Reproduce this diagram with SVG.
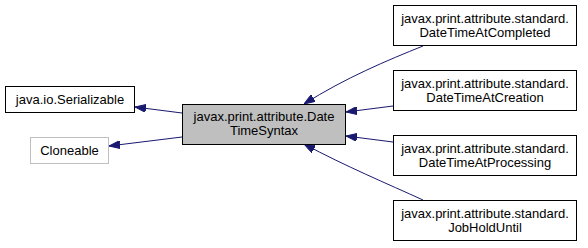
<svg xmlns="http://www.w3.org/2000/svg" width="588" height="248" viewBox="0 0 588 248">
  <style>
    .box { fill: #ffffff; stroke: #000000; stroke-width: 1; }
    .grey { fill: #ffffff; stroke: #bfbfbf; stroke-width: 1; }
    .cur { fill: #bfbfbf; stroke: #000000; stroke-width: 1; }
    text { font-family: "Liberation Sans", Arial, sans-serif; font-size: 13px; fill: #000000; text-anchor: middle; }
    .edge { fill: none; stroke: #191970; stroke-width: 1; }
  </style>
  <defs>
    <marker id="arrow" viewBox="0 0 11 8" refX="11" refY="4" markerWidth="11" markerHeight="8" markerUnits="userSpaceOnUse" orient="auto">
      <path d="M0,0 L11,4 L0,8 z" fill="#191970" stroke="#191970"/>
    </marker>
  </defs>
  <rect width="588" height="248" fill="#ffffff"/>

  <g id="edges">
    <path class="edge" d="M423,46 C388,60 345,78 304,104" marker-end="url(#arrow)"/>
    <path class="edge" d="M393,106 L346,112" marker-end="url(#arrow)"/>
    <path class="edge" d="M393,142 L346,136" marker-end="url(#arrow)"/>
    <path class="edge" d="M423,200 C388,184 345,166 304,144" marker-end="url(#arrow)"/>
    <path class="edge" d="M182,113 L135,107" marker-end="url(#arrow)"/>
    <path class="edge" d="M182,137 L109,146" marker-end="url(#arrow)"/>
  </g>

  <g id="node-datetimesyntax">
    <rect class="cur" x="182.5" y="104.5" width="163" height="40"/>
    <text x="264" y="121">javax.print.attribute.Date</text>
    <text x="264" y="135">TimeSyntax</text>
  </g>

  <g id="node-serializable">
    <rect class="box" x="5.5" y="86.5" width="129" height="26"/>
    <text x="70" y="104">java.io.Serializable</text>
  </g>

  <g id="node-cloneable">
    <rect class="grey" x="30.5" y="137.5" width="78" height="26"/>
    <text x="69.5" y="155">Cloneable</text>
  </g>

  <g id="node-datetimeatcompleted">
    <rect class="box" x="393.5" y="5.5" width="183" height="40"/>
    <text x="485" y="23">javax.print.attribute.standard.</text>
    <text x="485" y="37">DateTimeAtCompleted</text>
  </g>

  <g id="node-datetimeatcreation">
    <rect class="box" x="393.5" y="70.5" width="183" height="40"/>
    <text x="485" y="88">javax.print.attribute.standard.</text>
    <text x="485" y="102">DateTimeAtCreation</text>
  </g>

  <g id="node-datetimeatprocessing">
    <rect class="box" x="393.5" y="135.5" width="183" height="40"/>
    <text x="485" y="153">javax.print.attribute.standard.</text>
    <text x="485" y="167">DateTimeAtProcessing</text>
  </g>

  <g id="node-jobholduntil">
    <rect class="box" x="393.5" y="200.5" width="183" height="40"/>
    <text x="485" y="218">javax.print.attribute.standard.</text>
    <text x="485" y="232">JobHoldUntil</text>
  </g>
</svg>
